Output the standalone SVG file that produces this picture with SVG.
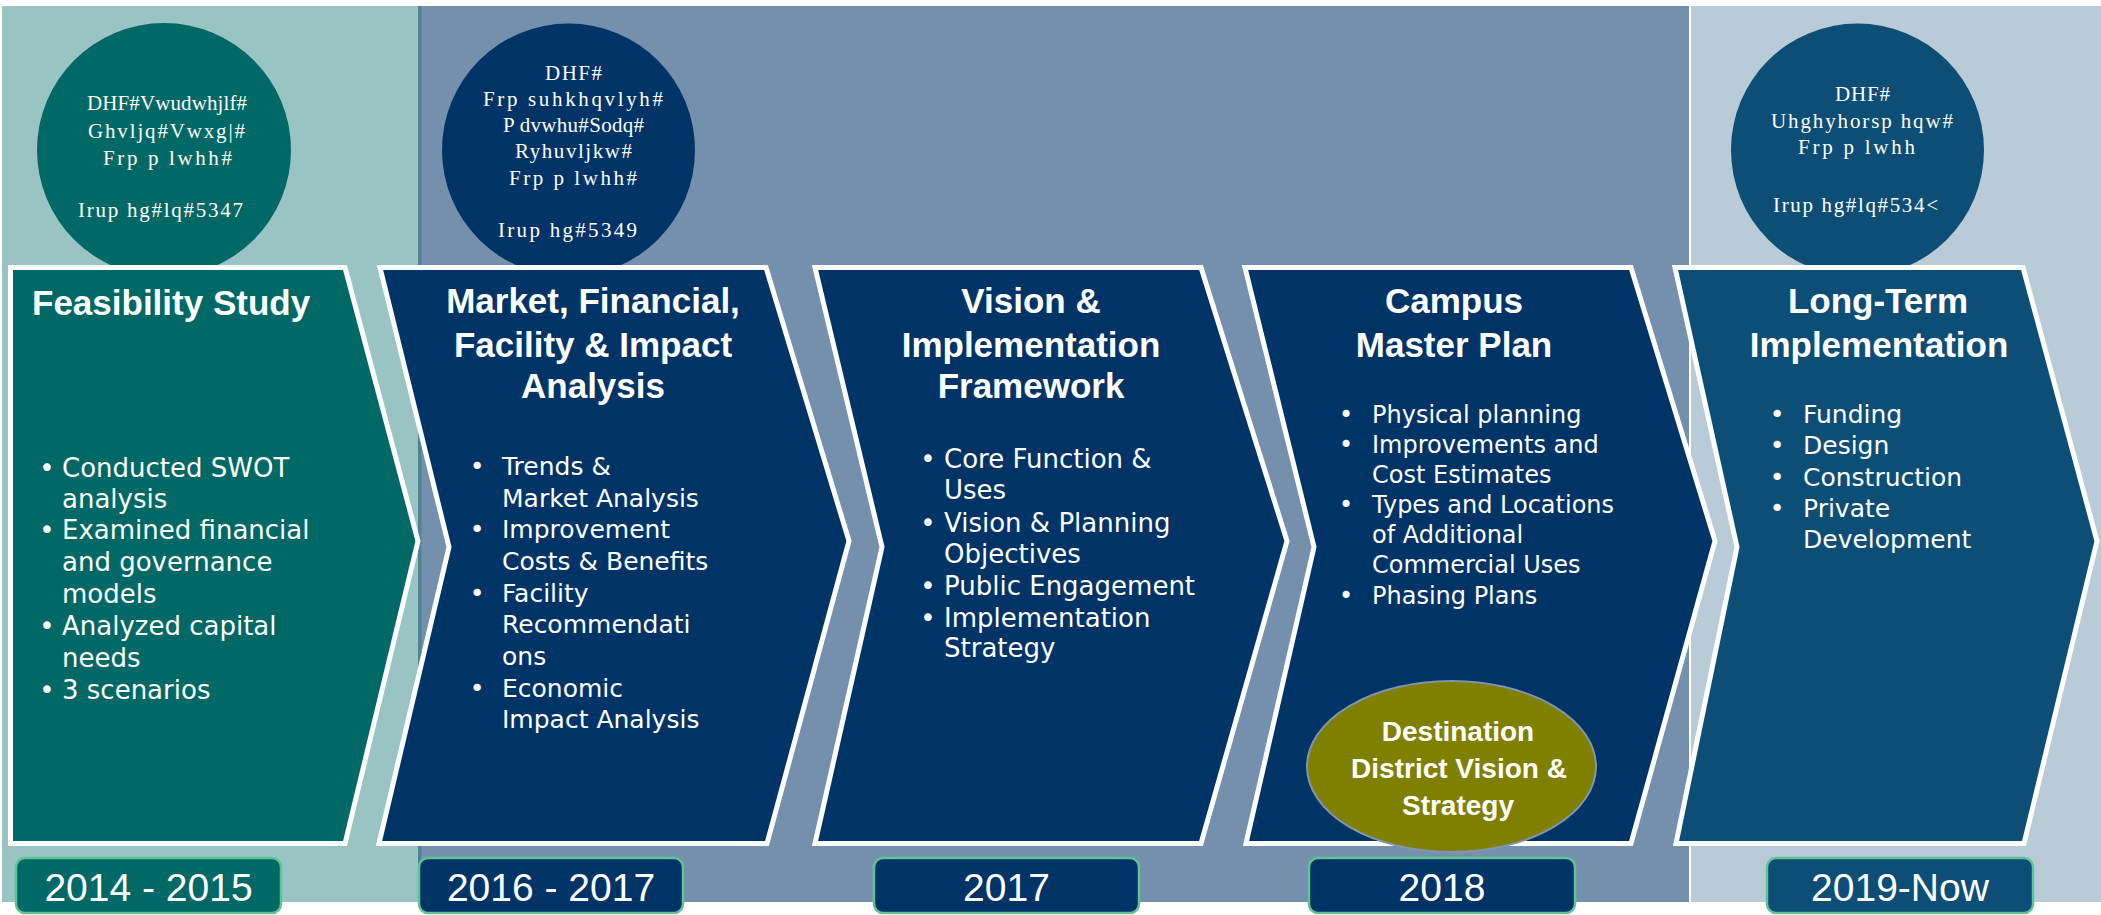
<svg xmlns="http://www.w3.org/2000/svg" width="2101" height="915" viewBox="0 0 2101 915">
<defs>
<style>
.chev{stroke:#ffffff;stroke-width:5;stroke-linejoin:miter}
.teal{fill:#006865}
.navy{fill:#003466}
.blue{fill:#0C4E76}
.ctext{font-family:"Liberation Serif","Times New Roman",serif;font-size:21px;fill:#ffffff}
.title{font-family:"Liberation Sans",Arial,sans-serif;font-weight:bold;font-size:35px;fill:#ffffff;text-anchor:middle}
.body{font-family:"DejaVu Sans",sans-serif;font-size:26px;fill:#ffffff}
.body24{font-family:"DejaVu Sans",sans-serif;font-size:24px;fill:#ffffff}
.body25{font-family:"DejaVu Sans",sans-serif;font-size:25px;fill:#ffffff}
.bul{text-anchor:middle}
.year{stroke:#5EC494;stroke-width:2.5}
.ytext{font-family:"Liberation Sans",Arial,sans-serif;font-size:39px;fill:#ffffff;text-anchor:middle}
.etext{font-family:"Liberation Sans",Arial,sans-serif;font-weight:bold;font-size:28px;fill:#ffffff;text-anchor:middle}
</style>
</defs>

<g id="background">
<rect x="2" y="6" width="418" height="896" fill="#9AC3C3"/>
<rect x="420" y="6" width="1270" height="896" fill="#7490AC"/>
<rect x="1690" y="6" width="411" height="896" fill="#B9CBD7"/>
<rect x="418" y="6" width="3.5" height="896" fill="#4F8392"/>
<rect x="1689" y="6" width="2" height="896" fill="#ffffff"/>
</g>

<g id="connectors"></g>

<g id="phase1">
<circle cx="164" cy="150" r="127" class="teal"/>
<text class="ctext" x="87" y="110" textLength="160" lengthAdjust="spacing">DHF#Vwudwhjlf#</text>
<text class="ctext" x="88" y="138" textLength="157" lengthAdjust="spacing">Ghvljq#Vwxg|#</text>
<text class="ctext" x="103" y="165" textLength="129" lengthAdjust="spacing">Frp p lwhh#</text>
<text class="ctext" x="78" y="217" textLength="165" lengthAdjust="spacing">Irup hg#lq#5347</text>
<path class="chev teal" d="M10.5,267.5 L345,267.5 L418,541 L345,843.5 L10.5,843.5 Z"/>
<text x="32" y="315" class="title" style="text-anchor:start">Feasibility Study</text>
<g class="body">
<text x="47" y="477" class="bul">•</text><text x="62" y="477">Conducted SWOT</text>
<text x="62" y="508">analysis</text>
<text x="47" y="539" class="bul">•</text><text x="62" y="539">Examined financial</text>
<text x="62" y="571">and governance</text>
<text x="62" y="603">models</text>
<text x="47" y="635" class="bul">•</text><text x="62" y="635">Analyzed capital</text>
<text x="62" y="667">needs</text>
<text x="47" y="699" class="bul">•</text><text x="62" y="699">3 scenarios</text>
</g>
<rect x="16" y="858" width="265" height="55" rx="9" class="year teal"/>
<text x="148.5" y="901" class="ytext">2014 - 2015</text>
</g>

<g id="phase2">
<circle cx="568.5" cy="150" r="126.5" class="navy"/>
<text class="ctext" x="545" y="80" textLength="57" lengthAdjust="spacing">DHF#</text>
<text class="ctext" x="483" y="106" textLength="180" lengthAdjust="spacing">Frp suhkhqvlyh#</text>
<text class="ctext" x="503" y="132" textLength="141" lengthAdjust="spacing">P dvwhu#Sodq#</text>
<text class="ctext" x="515" y="158" textLength="117" lengthAdjust="spacing">Ryhuvljkw#</text>
<text class="ctext" x="509" y="185" textLength="128" lengthAdjust="spacing">Frp p lwhh#</text>
<text class="ctext" x="498" y="237" textLength="139" lengthAdjust="spacing">Irup hg#5349</text>
<path class="chev navy" d="M380,267.5 L766,267.5 L849,541 L767,843.5 L379,843.5 L449,547 Z"/>
<text class="title"><tspan x="593" y="313">Market, Financial,</tspan><tspan x="593" y="357">Facility &amp; Impact</tspan><tspan x="593" y="398">Analysis</tspan></text>
<g class="body25">
<text x="477" y="475" class="bul">•</text><text x="502" y="475">Trends &amp;</text>
<text x="502" y="507">Market Analysis</text>
<text x="477" y="538" class="bul">•</text><text x="502" y="538">Improvement</text>
<text x="502" y="570">Costs &amp; Benefits</text>
<text x="477" y="602" class="bul">•</text><text x="502" y="602">Facility</text>
<text x="502" y="633">Recommendati</text>
<text x="502" y="665">ons</text>
<text x="477" y="697" class="bul">•</text><text x="502" y="697">Economic</text>
<text x="502" y="728">Impact Analysis</text>
</g>
<rect x="419" y="858" width="264" height="55" rx="9" class="year navy"/>
<text x="551" y="901" class="ytext">2016 - 2017</text>
</g>

<g id="phase3">
<path class="chev navy" d="M815,267.5 L1201,267.5 L1287,541 L1201,843.5 L815,843.5 L882,547 Z"/>
<text class="title"><tspan x="1031" y="313">Vision &amp;</tspan><tspan x="1031" y="357">Implementation</tspan><tspan x="1031" y="398">Framework</tspan></text>
<g class="body">
<text x="928" y="468" class="bul">•</text><text x="944" y="468">Core Function &amp;</text>
<text x="944" y="499">Uses</text>
<text x="928" y="532" class="bul">•</text><text x="944" y="532">Vision &amp; Planning</text>
<text x="944" y="563">Objectives</text>
<text x="928" y="595" class="bul">•</text><text x="944" y="595">Public Engagement</text>
<text x="928" y="627" class="bul">•</text><text x="944" y="627">Implementation</text>
<text x="944" y="657">Strategy</text>
</g>
<rect x="874" y="858" width="265" height="55" rx="9" class="year navy"/>
<text x="1006.5" y="901" class="ytext">2017</text>
</g>

<g id="phase4">
<path class="chev navy" d="M1245,267.5 L1631,267.5 L1715,541 L1631,843.5 L1246,843.5 L1314,547 Z"/>
<text class="title"><tspan x="1454" y="313">Campus</tspan><tspan x="1454" y="357">Master Plan</tspan></text>
<g class="body24">
<text x="1346" y="423" class="bul">•</text><text x="1372" y="423">Physical planning</text>
<text x="1346" y="453" class="bul">•</text><text x="1372" y="453">Improvements and</text>
<text x="1372" y="483">Cost Estimates</text>
<text x="1346" y="513" class="bul">•</text><text x="1372" y="513">Types and Locations</text>
<text x="1372" y="543">of Additional</text>
<text x="1372" y="573">Commercial Uses</text>
<text x="1346" y="604" class="bul">•</text><text x="1372" y="604">Phasing Plans</text>
</g>
<rect x="1309" y="858" width="266" height="55" rx="9" class="year navy"/>
<text x="1442" y="901" class="ytext">2018</text>
</g>

<g id="destination">
<ellipse cx="1451.5" cy="766.5" rx="144.5" ry="85.5" fill="#808000" stroke="#8096B0" stroke-width="2"/>
<text class="etext"><tspan x="1458" y="741">Destination</tspan><tspan x="1459" y="778">District Vision &amp;</tspan><tspan x="1458" y="815">Strategy</tspan></text>
</g>

<g id="phase5">
<circle cx="1857.5" cy="150" r="126.5" class="blue"/>
<text class="ctext" x="1835" y="101" textLength="55" lengthAdjust="spacing">DHF#</text>
<text class="ctext" x="1771" y="128" textLength="182" lengthAdjust="spacing">Uhghyhorsp hqw#</text>
<text class="ctext" x="1798" y="154" textLength="117" lengthAdjust="spacing">Frp p lwhh</text>
<text class="ctext" x="1773" y="212" textLength="165" lengthAdjust="spacing">Irup hg#lq#534&lt;</text>
<path class="chev blue" d="M1675,267.5 L2023,267.5 L2097,541 L2024,843.5 L1676,843.5 L1737,547 Z"/>
<text class="title"><tspan x="1878" y="313">Long-Term</tspan><tspan x="1879" y="357">Implementation</tspan></text>
<g class="body25">
<text x="1777" y="423" class="bul">•</text><text x="1803" y="423">Funding</text>
<text x="1777" y="454" class="bul">•</text><text x="1803" y="454">Design</text>
<text x="1777" y="486" class="bul">•</text><text x="1803" y="486">Construction</text>
<text x="1777" y="517" class="bul">•</text><text x="1803" y="517">Private</text>
<text x="1803" y="548">Development</text>
</g>
<rect x="1767" y="858" width="266" height="55" rx="9" class="year blue"/>
<text x="1900" y="901" class="ytext">2019-Now</text>
</g>
</svg>
